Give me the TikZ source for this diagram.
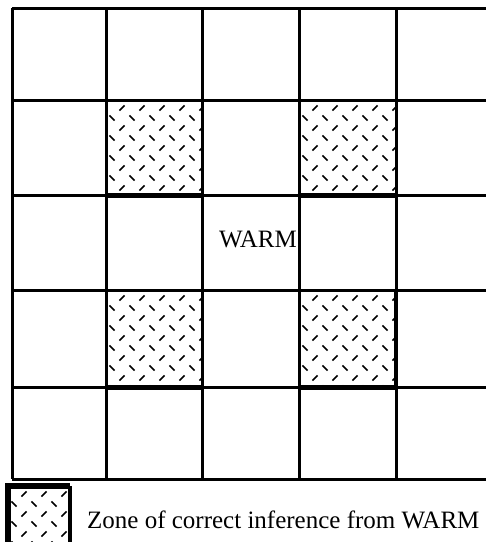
\documentclass[tikz,border=0pt]{standalone}
\usepackage{fontspec}
\setmainfont{Liberation Serif}
\usetikzlibrary{positioning}
\tikzset{gridline/.style={line width=3pt},
	zoneedge/.style={line width=5pt},
	tick/.style={line width=1.6pt}
}

\begin{document}
\begin{tikzpicture}[x=1pt,y=-1pt]
	\useasboundingbox (0,0) rectangle (486,542);
	\fontsize{25}{30}\selectfont

	% hatched zones and the key box
	\foreach \xa/\ya/\xb/\yb in {106/100/202/195, 299/100/396/195, 106/290/202/387, 299/290/396/387, 8/486/70/542}{
		\begin{scope}
			\clip (\xa,\ya) rectangle (\xb,\yb);
			\foreach \i in {0,...,5}
			\foreach \j in {0,...,5}{
				\draw[tick] (\xa+16+20*\i-2.6,\ya+8+20*\j+2.6)--(\xa+16+20*\i+2.6,\ya+8+20*\j-2.6);
				\draw[tick] (\xa+6+20*\i-2.6,\ya+18+20*\j-2.6)--(\xa+6+20*\i+2.6,\ya+18+20*\j+2.6);
			}
		\end{scope}
	}

	% grid
	\foreach \x in {12,106,202,299,396}
	\draw[gridline] (\x,8)--(\x,479);
	\foreach \y in {8,100,195,290,387,479}
	\draw[gridline] (12,\y)--(486,\y);

	% heavier lower edge of each zone
	\foreach \xa/\xb/\y in {106/202/195, 299/396/195, 106/202/387, 299/396/387}
	\draw[zoneedge] (\xa,\y)--(\xb,\y);
	\draw[line width=3.6pt] (396,290)--(396,387);

	\node[anchor=base east, inner sep=0pt] (warm) at (297,247) {WARM};

	% key
	\draw[line width=6pt] (8,545)--(8,486)--(70,486);
	\draw[line width=4pt] (70,486)--(70,545);
	\node[anchor=base west, inner sep=0pt] (zonekey) at (87,528) {Zone of correct inference from WARM};
\end{tikzpicture}
\end{document}
